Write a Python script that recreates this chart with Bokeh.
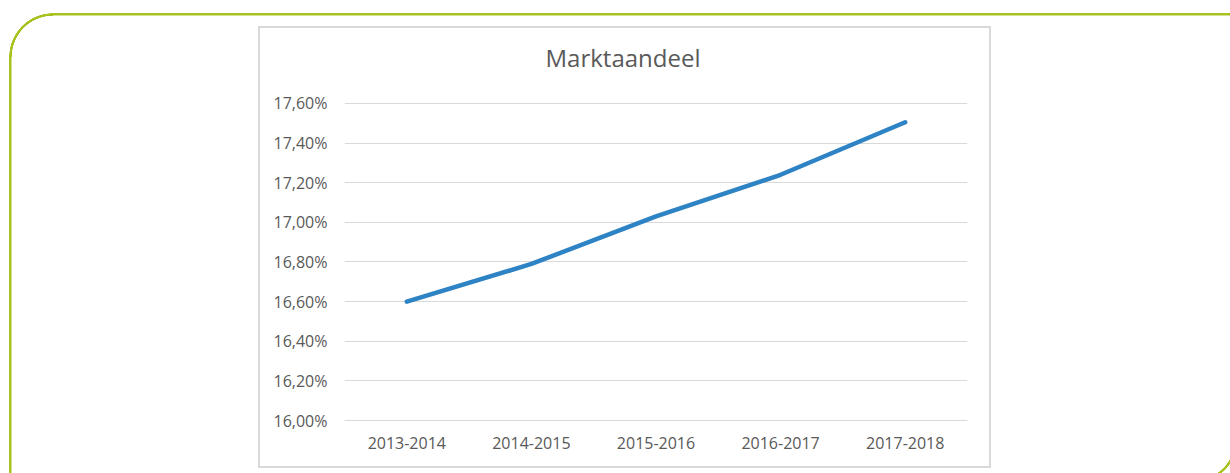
from bokeh.plotting import figure
from bokeh.models import FactorRange, Range1d, FixedTicker, Title
from bokeh.embed import file_html
from bokeh.resources import INLINE

# ---- data ----
categories = ["2013-2014", "2014-2015", "2015-2016", "2016-2017", "2017-2018"]
marktaandeel = [16.60, 16.79, 17.03, 17.24, 17.505]
y_ticks = [16.0, 16.2, 16.4, 16.6, 16.8, 17.0, 17.2, 17.4, 17.6]
y_tick_labels = ["16,00%", "16,20%", "16,40%", "16,60%", "16,80%",
                 "17,00%", "17,20%", "17,40%", "17,60%"]
title_text = "Marktaandeel"

W, H = 1230, 473
FONT = "Open Sans"
TXT = "#595959"
GRID = "#d9d9d9"
GREEN = "#a9c11f"

# frame in canvas pixels
FL, FR, FT, FB = 344, 967, 99, 420

p = figure(width=W, height=H, title=None,
           x_range=FactorRange(*categories, range_padding=0),
           y_range=Range1d(16.0, 17.62),
           output_backend="svg", toolbar_location=None,
           min_border_left=FL, min_border_right=W - FR,
           min_border_top=FT, min_border_bottom=H - FB)

# transparent canvas so the decorative page frame (CSS background) shows through
p.background_fill_color = None
p.border_fill_color = None
p.outline_line_color = None


def seg(x, y, w, h, c):
    return f"linear-gradient({c},{c}) {x}px {y}px / {w}px {h}px no-repeat"


layers = [
    # grey chart box
    seg(258, 26, 733, 2, GRID),
    seg(258, 466, 733, 2, GRID),
    seg(258, 26, 2, 442, GRID),
    seg(989, 26, 2, 442, GRID),
    # green rounded page frame
    seg(52, 12.5, 1200, 2.5, GREEN),
    seg(9, 55, 2.5, 430, GREEN),
    f"radial-gradient(circle at 100% 100%, transparent 41px, {GREEN} 41.5px, "
    f"{GREEN} 43.5px, transparent 44px) 9px 12.5px / 44px 44px no-repeat",
    f"radial-gradient(circle at 0% 0%, transparent 41px, {GREEN} 41.5px, "
    f"{GREEN} 43.5px, transparent 44px) 1194px 439px / 44px 44px no-repeat",
]
p.styles = {"background": ", ".join(layers) + ", #ffffff"}

p.line(x=categories, y=marktaandeel, line_color="#2e83c5", line_width=4.5,
       line_cap="round", line_join="round")

# axes
p.yaxis.ticker = FixedTicker(ticks=y_ticks)
p.yaxis.major_label_overrides = {t: l for t, l in zip(y_ticks, y_tick_labels)}
p.yaxis.axis_line_color = None
p.yaxis.major_tick_line_color = None
p.yaxis.minor_tick_line_color = None
p.yaxis.major_tick_out = 0
p.yaxis.major_tick_in = 0
p.yaxis.major_label_standoff = 17
p.yaxis.major_label_text_font = FONT
p.yaxis.major_label_text_font_size = "16px"
p.yaxis.major_label_text_color = TXT

p.xaxis.axis_line_color = GRID
p.xaxis.major_tick_line_color = None
p.xaxis.minor_tick_line_color = None
p.xaxis.major_tick_out = 0
p.xaxis.major_tick_in = 0
p.xaxis.major_label_standoff = 16
p.xaxis.major_label_text_font = FONT
p.xaxis.major_label_text_font_size = "16px"
p.xaxis.major_label_text_color = TXT

p.xgrid.grid_line_color = None
p.ygrid.ticker = FixedTicker(ticks=y_ticks)
p.ygrid.grid_line_color = GRID
p.ygrid.grid_line_width = 1

t = Title(text=title_text, align="left", offset=201, standoff=52,
          text_font=FONT, text_font_size="24px", text_color=TXT,
          text_font_style="normal")
p.add_layout(t, "above")

open("out.html", "w").write(file_html(p, INLINE))
